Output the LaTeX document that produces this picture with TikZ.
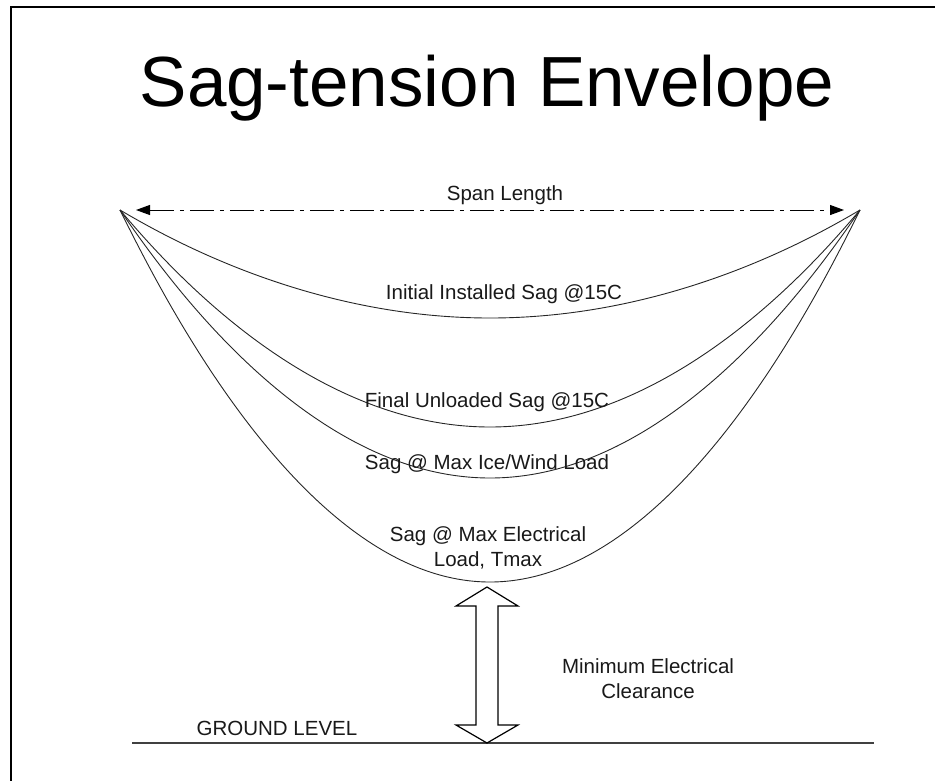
\documentclass[tikz,border=0pt]{standalone}
\usepackage{fontspec}
\setmainfont{Liberation Sans}
\usetikzlibrary{arrows.meta}
\begin{document}
\begin{tikzpicture}[x=1pt,y=1pt,
  lbl/.style={anchor=base,inner sep=0pt,font=\fontsize{20.5}{24.5}\selectfont,text=black!90},
  lbl2/.style={anchor=base,inner sep=0pt,align=center,font=\fontsize{20.5}{24.5}\selectfont,text=black!90},
  sagline/.style={draw=black!85,line width=0.9pt},
  spanline/.style={draw=black,line width=1pt,dash pattern=on 24pt off 6pt on 4pt off 6pt,
    {Triangle[length=14pt,width=10pt]}-{Triangle[length=14pt,width=10pt]}},
  ground/.style={draw=black!75,line width=1.6pt},
  frameline/.style={draw=black,line width=2.6pt},
  blockarrow/.style={draw=black,line width=1.2pt,fill=white,line join=miter}
]
\useasboundingbox (0,0) rectangle (935,-780);
% frame (top and left edges visible)
\draw[frameline] (10.8,-781) -- (10.8,-7) -- (936,-7);
% title
\node[anchor=base,inner sep=0pt,font=\fontsize{71}{80}\selectfont] (title) at (487,-106) {Sag-tension Envelope};
% support points
\coordinate (L) at (120,-210);
\coordinate (R) at (860,-210);
\coordinate (SL) at (136,-210);
\coordinate (SR) at (844,-210);
% span length arrow
\draw[spanline] (SL) -- (SR);
\node[lbl] (span) at (505,-200) {Span Length};
% sag curves
\draw[sagline] (L) parabola bend (490,-318) (R);
\draw[sagline] (L) parabola bend (490,-427) (R);
\draw[sagline] (L) parabola bend (490,-478) (R);
\draw[sagline] (L) parabola bend (490,-582) (R);
% curve labels
\node[lbl] (initial) at (504,-299) {Initial Installed Sag @15C};
\node[lbl] (final) at (487,-407) {Final Unloaded Sag @15C};
\node[lbl] (ice) at (487,-469) {Sag @ Max Ice/Wind Load};
\node[lbl2] (elec) at (488,-566) {Sag @ Max Electrical\\Load, Tmax};
% ground
\coordinate (G1) at (132,-743);
\coordinate (G2) at (874,-743);
\draw[ground] (G1) -- (G2);
\node[lbl] (glevel) at (277,-735) {GROUND LEVEL};
% clearance block arrow
\draw[blockarrow] (487,-587) -- (518,-606) -- (498,-606) -- (498,-725) -- (518,-725)
  -- (487,-743) -- (456,-725) -- (476,-725) -- (476,-606) -- (456,-606) -- cycle;
\node[lbl2] (clear) at (648,-698) {Minimum Electrical\\Clearance};
\end{tikzpicture}
\end{document}
